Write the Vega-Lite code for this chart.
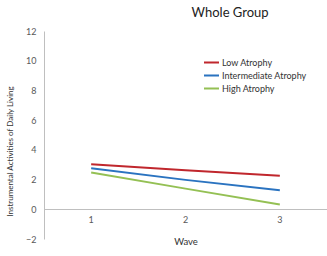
{
  "$schema": "https://vega.github.io/schema/vega-lite/v6.json",
  "width": 283,
  "height": 208,
  "autosize": {"type": "none"},
  "padding": {"left": 44, "top": 31, "right": 0, "bottom": 17},
  "background": "white",
  "config": {"view": {"stroke": null}, "font": "Lato"},
  "title": {"text": "Whole Group", "anchor": "start", "dx": 185, "dy": -3, "fontSize": 13, "fontWeight": "normal", "color": "#222222", "font": "Lato"},
  "data": {"values": [
    {"wave": "1", "group": "Low Atrophy", "value": 3.03},
    {"wave": "2", "group": "Low Atrophy", "value": 2.63},
    {"wave": "3", "group": "Low Atrophy", "value": 2.25},
    {"wave": "1", "group": "Intermediate Atrophy", "value": 2.76},
    {"wave": "2", "group": "Intermediate Atrophy", "value": 1.98},
    {"wave": "3", "group": "Intermediate Atrophy", "value": 1.28},
    {"wave": "1", "group": "High Atrophy", "value": 2.47},
    {"wave": "2", "group": "High Atrophy", "value": 1.39},
    {"wave": "3", "group": "High Atrophy", "value": 0.32}
  ]},
  "mark": {"type": "line", "strokeWidth": 2},
  "encoding": {
    "x": {"field": "wave", "type": "ordinal", "scale": {"type": "band", "paddingInner": 0, "paddingOuter": 0},
      "axis": {"title": "Wave", "labelAngle": 0, "offset": -30, "ticks": false, "domainColor": "#bfbfbf", "labelColor": "#595959", "labelFontSize": 9, "labelPadding": 6, "titleFontSize": 9.5, "titleFontWeight": "normal", "titleColor": "#333333", "titlePadding": 12}},
    "y": {"field": "value", "type": "quantitative", "scale": {"domain": [-2, 12], "nice": false},
      "axis": {"title": "Instrumental Activities of Daily Living", "values": [-2, 0, 2, 4, 6, 8, 10, 12], "grid": false, "ticks": false, "domainColor": "#bfbfbf", "labelColor": "#595959", "labelFontSize": 9, "labelPadding": 8, "titleFontSize": 8, "titleFontWeight": "normal", "titleColor": "#333333", "titlePadding": 11, "titleY": 120}},
    "color": {"field": "group", "type": "nominal",
      "scale": {"domain": ["Low Atrophy", "Intermediate Atrophy", "High Atrophy"], "range": ["#C0272D", "#2A73C0", "#94C054"]},
      "legend": {"title": null, "orient": "none", "legendX": 159, "legendY": 25, "symbolType": "stroke", "symbolSize": 225, "symbolStrokeWidth": 2, "labelFontSize": 9, "labelColor": "#333333", "labelOffset": 2, "rowPadding": 0, "clipHeight": 13}}
  }
}
